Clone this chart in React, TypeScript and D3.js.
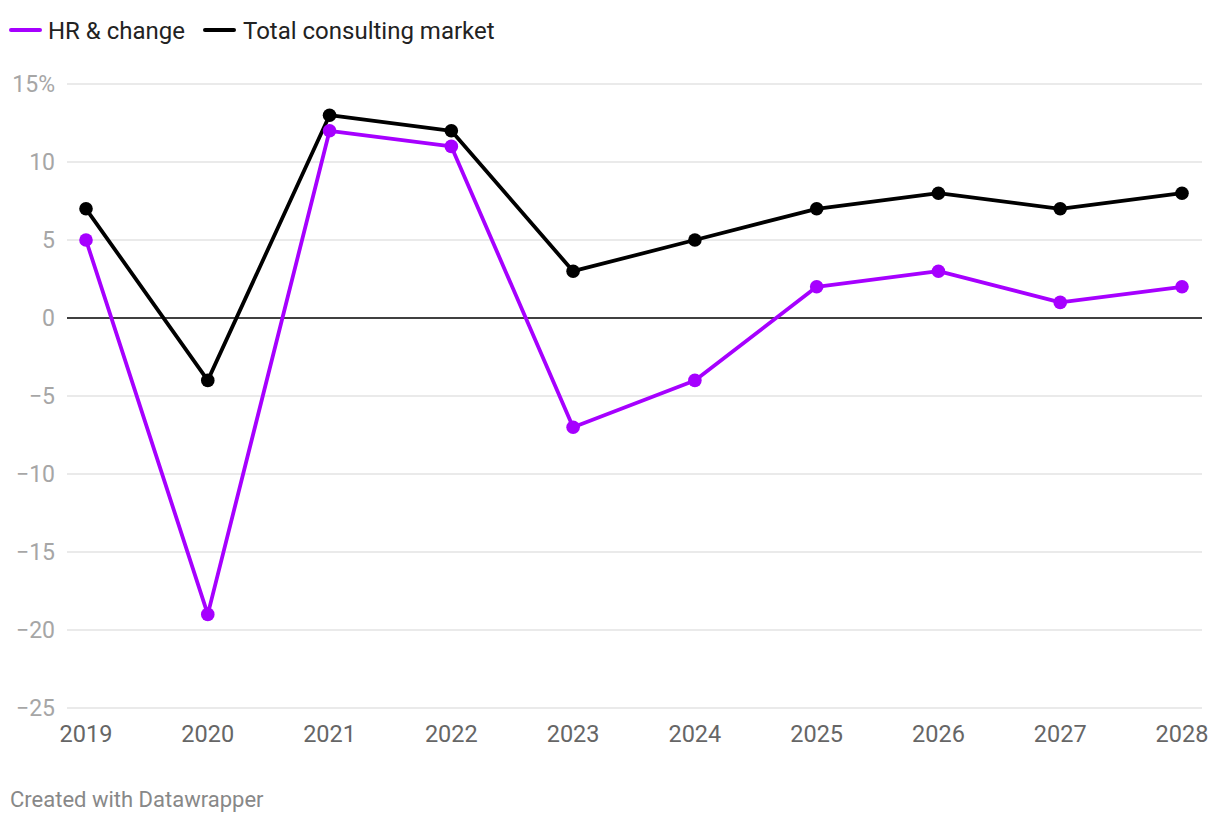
import React, { useEffect } from "react";
import * as d3 from "d3";

const years = ["2019", "2020", "2021", "2022", "2023", "2024", "2025", "2026", "2027", "2028"];
const hrChange = [5, -19, 12, 11, -7, -4, 2, 3, 1, 2];
const totalMarket = [7, -4, 13, 12, 3, 5, 7, 8, 7, 8];
const yTicks = [15, 10, 5, 0, -5, -10, -15, -20, -25];
const seriesNames = ["HR & change", "Total consulting market"];
const seriesColors = ["#a600ff", "#000000"];

const W = 1220;
const H = 824;
const FONT = "Roboto, 'Noto Sans', sans-serif";

export default function App() {
  useEffect(() => {
    document.body.style.margin = "0";
  }, []);

  const x = d3.scalePoint<string>().domain(years).range([86, 1182]);
  const y = d3.scaleLinear().domain([-25, 15]).range([708, 84]);
  const line = d3
    .line<number>()
    .x((_, i) => x(years[i]) as number)
    .y((d) => y(d));

  const series = [hrChange, totalMarket];
  const fmt = (v: number) => {
    const s = v < 0 ? "\u2212" + Math.abs(v) : String(v);
    return v === 15 ? s + "%" : s;
  };

  return (
    <svg width={W} height={H} style={{ display: "block", background: "#fff" }} fontFamily={FONT}>
      {/* legend */}
      <g>
        <line x1={11} x2={40} y1={30} y2={30} stroke={seriesColors[0]} strokeWidth={4} strokeLinecap="round" />
        <text x={48} y={38.5} fontSize={24} fill="#222">{seriesNames[0]}</text>
        <line x1={205} x2={234} y1={30} y2={30} stroke={seriesColors[1]} strokeWidth={4} strokeLinecap="round" />
        <text x={243} y={38.5} fontSize={24} fill="#222">{seriesNames[1]}</text>
      </g>
      {/* grid */}
      <g>
        {yTicks.map((t) => (
          <g key={t}>
            <line
              x1={67}
              x2={1202}
              y1={y(t)}
              y2={y(t)}
              stroke={t === 0 ? "#000" : "#e3e3e3"}
              strokeWidth={1.5}
            />
            <text x={55} y={y(t)} dy="0.35em" textAnchor="end" fontSize={23} fill="#a6a6a6">
              {fmt(t)}
            </text>
          </g>
        ))}
      </g>
      {/* x labels */}
      <g>
        {years.map((yr) => (
          <text key={yr} x={x(yr)} y={742} textAnchor="middle" fontSize={23.5} fill="#666">
            {yr}
          </text>
        ))}
      </g>
      {/* lines */}
      {[1, 0].map((si) => (
        <g key={si}>
          <path d={line(series[si]) || ""} fill="none" stroke={seriesColors[si]} strokeWidth={3.8} strokeLinejoin="round" />
          {series[si].map((v, i) => (
            <circle key={i} cx={x(years[i])} cy={y(v)} r={6.8} fill={seriesColors[si]} />
          ))}
        </g>
      ))}
      <text x={10} y={807} fontSize={22} fill="#888">Created with Datawrapper</text>
    </svg>
  );
}
